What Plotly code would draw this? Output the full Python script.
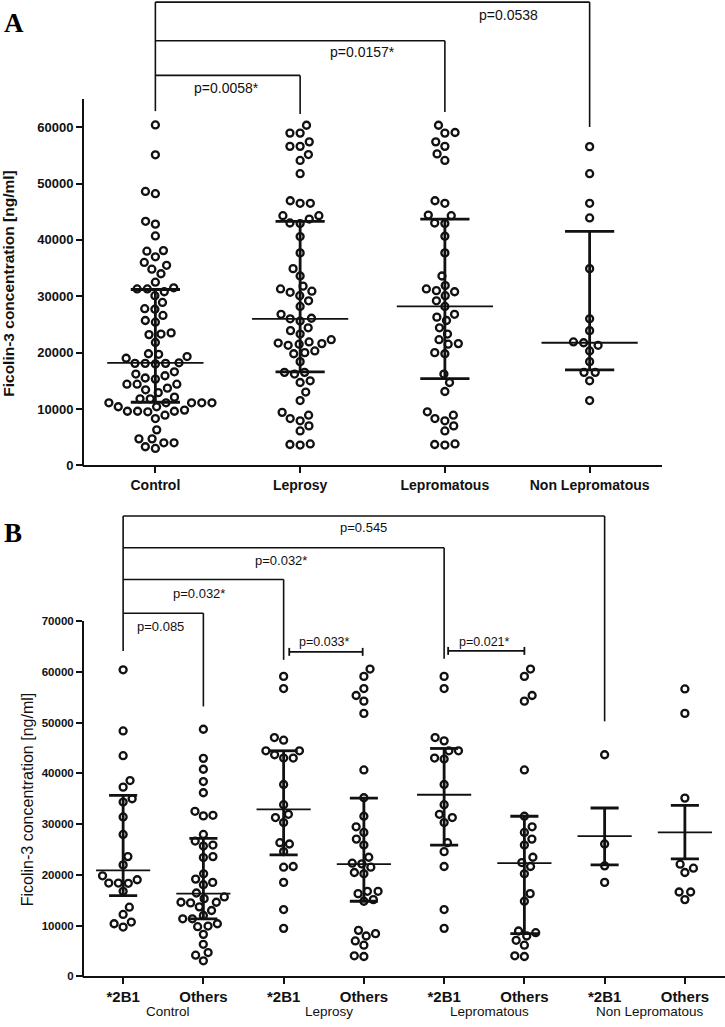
import math
import plotly.graph_objects as go

W, H = 725, 1027

# ---------------- Panel A data ----------------
cats_A = ["Control", "Leprosy", "Lepromatous", "Non Lepromatous"]
control_A = [60400, 55100, 48600, 48200, 43300, 42800, 40700, 38100, 38000, 37000, 36000, 35500,
             34800, 34000, 32500, 31500, 31300, 31300, 30800, 30100, 28900, 27800, 27700, 26600,
             25700, 25400, 23500, 23300, 23200, 21800, 19800, 19700, 19300, 19000, 18200, 18100,
             18100, 18100, 18000, 16600, 16200, 15900, 15500, 15300, 14400, 14400, 14400, 13700,
             13400, 12900, 12100, 11800, 11800, 11100, 11100, 11100, 11100, 11100, 10400, 10400,
             9800, 9600, 9600, 9600, 9500, 8900, 8300, 6300, 4700, 4700, 4000, 4000, 3300, 3000]
leprosy_A = [60350, 58950, 58950, 57400, 56600, 56600, 55150, 54100, 51750, 46950, 46500, 46500,
             44300, 44300, 43700, 43000, 42900, 40600, 37700, 34900, 33600, 31800, 31300, 30900,
             30700, 30100, 29200, 28200, 26800, 26100, 26000, 25600, 24400, 23900, 23300, 22300,
             21900, 21700, 21600, 21500, 21300, 20300, 20000, 19800, 18400, 16500, 16500, 16200,
             15000, 14700, 13000, 11500, 9400, 8900, 8300, 7900, 7000, 6100, 3800, 3700, 3600]
lepromatous_A = [60350, 59060, 58950, 57400, 56600, 55260, 54100, 46950, 46500, 44400, 44300,
                 43000, 42900, 40650, 37700, 33600, 31900, 31300, 31000, 30800, 30100, 29200,
                 28200, 26800, 26300, 25700, 24400, 23300, 22300, 21600, 21500, 20000, 19800,
                 16200, 14700, 13100, 9500, 8900, 8300, 7900, 7000, 6100, 3800, 3700, 3600]
nonlep_A = [56550, 51750, 46500, 43900, 34900, 26000, 23900, 21900, 21750, 21300, 20300, 18400,
            16500, 16500, 15000, 11500]
median_A = [18200, 26000, 28200, 21750]
q1_A = [11200, 16600, 15400, 16950]
q3_A = [31200, 43300, 43700, 41500]
ticks_A = [0, 10000, 20000, 30000, 40000, 50000, 60000]
pvals_A = ["p=0.0058*", "p=0.0157*", "p=0.0538"]

# ---------------- Panel B data ----------------
cats_B = ["*2B1", "Others", "*2B1", "Others", "*2B1", "Others", "*2B1", "Others"]
groups_B = ["Control", "Leprosy", "Lepromatous", "Non Lepromatous"]
ctrl_2b1 = [60400, 48350, 43470, 38580, 37280, 34990, 34340, 31410, 27960, 23590, 21960, 19810,
            19030, 18380, 18330, 18380, 16750, 13620, 12190, 10690, 10360, 9710]
ctrl_oth = [48680, 42950, 40800, 38380, 36170, 32520, 31610, 31730, 27960, 26650, 25670, 25870,
            23590, 23400, 20200, 18510, 18050, 19160, 16420, 15640, 14600, 14470, 14600, 15310,
            13690, 12970, 11990, 11340, 10360, 9775, 9910, 11340, 8270, 6310, 4690, 4170, 3060]
lep_2b1 = [59100, 56700, 47050, 46530, 44440, 43660, 43010, 43010, 44440, 37800, 33820, 31280,
           31930, 30300, 26330, 26070, 24570, 21640, 21500, 18510, 13160, 9450]
lep_oth = [60540, 59100, 56700, 55330, 54220, 51810, 40660, 35190, 31540, 29460, 28350, 27040,
           25870, 23460, 22290, 22160, 21500, 20200, 20460, 16750, 16290, 16750, 15120, 14790,
           9060, 8410, 7950, 6970, 6130, 3910, 4040]
lepro_2b1 = [59100, 56700, 46400, 47050, 44440, 44440, 43010, 42810, 37800, 33820, 31930, 31280,
             30300, 26330, 24570, 21640, 13160, 9450]
lepro_oth = [60540, 59100, 55330, 54220, 40660, 31540, 29460, 28350, 27040, 25870, 23460, 22420,
             21640, 20200, 16290, 14790, 8600, 8930, 7950, 7100, 6130, 3910, 4040]
nonlep_2b1 = [43660, 26070, 21770, 18510]
nonlep_oth = [56630, 51810, 35120, 21310, 20460, 22090, 16620, 15120, 16620]
median_B = [20860, 16290, 32910, 22090, 35780, 22290, 27630, 28350]
q1_B = [15900, 11340, 23920, 14790, 25870, 8410, 21960, 23130]
q3_B = [35650, 27170, 44440, 35120, 44900, 31540, 33170, 33690]
ticks_B = [0, 10000, 20000, 30000, 40000, 50000, 60000, 70000]
pvals_B = ["p=0.085", "p=0.032*", "p=0.032*", "p=0.545", "p=0.033*", "p=0.021*"]

# ---------------- geometry (pixels) ----------------
AX_L = 83
A_RIGHT, A_BOT, A_TOP = 662, 469, 0
B_RIGHT, B_BOT, B_TOP = 725, 984, 512
A_RANGE = [0, 82570]
B_RANGE = [0, 92276]
domxA = [AX_L / W, A_RIGHT / W]
domyA = [1 - A_BOT / H, 1 - A_TOP / H]
domxB = [AX_L / W, B_RIGHT / W]
domyB = [1 - B_BOT / H, 1 - B_TOP / H]
ppvA = (A_BOT - A_TOP) / (A_RANGE[1] - A_RANGE[0])
ppcA = (A_RIGHT - AX_L) / 4.0
ppvB = (B_BOT - B_TOP) / (B_RANGE[1] - B_RANGE[0])
ppcB = (B_RIGHT - AX_L) / 8.0

INK = "#111111"
FONT = "Arial, Liberation Sans, Helvetica, sans-serif"


def swarm(vals, ppv, ppc, d):
    """Continuous beeswarm: smallest horizontal offset (px) with no overlap."""
    order = sorted(range(len(vals)), key=lambda i: vals[i])
    placed = []
    off = [0.0] * len(vals)
    for n, i in enumerate(order):
        y = vals[i] * ppv
        intervals = []
        for px, py in placed:
            dy = abs(y - py)
            if dy < d:
                w = math.sqrt(d * d - dy * dy)
                intervals.append((px - w, px + w))
        cands = [0.0]
        for a, b in intervals:
            cands += [a, b]
        sign_pref = 1 if n % 2 == 0 else -1
        cands.sort(key=lambda c: (round(abs(c), 6), -sign_pref * c))
        chosen = 0.0
        for c in cands:
            if all(not (a + 1e-6 < c < b - 1e-6) for a, b in intervals):
                chosen = c
                break
        placed.append((chosen, y))
        off[i] = chosen / ppc
    return off


fig = go.Figure()
shapes = []
annos = []


def add_group(vals, pos, xa, ya, ppv, ppc, d):
    offs = swarm(vals, ppv, ppc, d)
    fig.add_trace(go.Scatter(
        x=[pos + o for o in offs], y=vals, mode="markers", xaxis=xa, yaxis=ya,
        marker=dict(symbol="circle-open", size=7, color=INK, line=dict(width=2.3, color=INK)),
        showlegend=False, hoverinfo="y"))


def add_stats(pos, med, lo, hi, xr, yr, mw, cw):
    shapes.append(dict(type="line", xref=xr, yref=yr, x0=pos - mw / 2, x1=pos + mw / 2,
                       y0=med, y1=med, line=dict(color=INK, width=1.8), layer="above"))
    shapes.append(dict(type="line", xref=xr, yref=yr, x0=pos, x1=pos, y0=lo, y1=hi,
                       line=dict(color=INK, width=2.8), layer="above"))
    for v in (lo, hi):
        shapes.append(dict(type="line", xref=xr, yref=yr, x0=pos - cw / 2, x1=pos + cw / 2,
                           y0=v, y1=v, line=dict(color=INK, width=2.8), layer="above"))


def seg(xr, yr, x0, y0, x1, y1, w=1.6):
    shapes.append(dict(type="line", xref=xr, yref=yr, x0=x0, x1=x1, y0=y0, y1=y1,
                       line=dict(color=INK, width=w)))


# ---------------- Panel A ----------------
groups_A = [control_A, leprosy_A, lepromatous_A, nonlep_A]
for i, g in enumerate(groups_A):
    add_group(g, i, "x", "y", ppvA, ppcA, 10.2)
    add_stats(i, median_A[i], q1_A[i], q3_A[i], "x", "y", 0.665, 0.34)

# brackets A: (to group, bar level, right leg end, label x, label y)
brA = [(1, 69190, 62320, 0.49, 66900), (2, 75350, 62680, 1.43, 73415), (3, 82200, 60035, 2.44, 79930)]
seg("x", "y", 0, 62850, 0, 82200)
for (j, lvl, leg, lx, ly), txt in zip(brA, pvals_A):
    seg("x", "y", 0, lvl, j, lvl)
    seg("x", "y", j, lvl, j, leg)
    annos.append(dict(xref="x", yref="y", x=lx, y=ly, text=txt, showarrow=False,
                      font=dict(family=FONT, size=14, color=INK), xanchor="center", yanchor="middle"))


def ypA(v):
    return domyA[0] + (v - A_RANGE[0]) / (A_RANGE[1] - A_RANGE[0]) * (domyA[1] - domyA[0])


def ypB(v):
    return domyB[0] + (v - B_RANGE[0]) / (B_RANGE[1] - B_RANGE[0]) * (domyB[1] - domyB[0])


shapes.append(dict(type="line", xref="paper", yref="paper", x0=domxA[0], x1=domxA[0],
                   y0=ypA(0) - 1 / H, y1=ypA(65000), line=dict(color=INK, width=2)))

# ---------------- Panel B ----------------
groups_Bv = [ctrl_2b1, ctrl_oth, lep_2b1, lep_oth, lepro_2b1, lepro_oth, nonlep_2b1, nonlep_oth]
for i, g in enumerate(groups_Bv):
    add_group(g, i, "x2", "y2", ppvB, ppcB, 9.6)
    add_stats(i, median_B[i], q1_B[i], q3_B[i], "x2", "y2", 0.675, 0.35)

brB = [(1, 71550, 53180, 0.47, 69010), (2, 78200, 62360, 0.95, 75460),
       (4, 84460, 62560, 1.97, 81910), (6, 90710, 50240, 3.0, 88370)]
seg("x2", "y2", 0, 64120, 0, 90710)
for (j, lvl, leg, lx, ly), txt in zip(brB, pvals_B[:4]):
    seg("x2", "y2", 0, lvl, j, lvl)
    seg("x2", "y2", j, lvl, j, leg)
    annos.append(dict(xref="x2", yref="y2", x=lx, y=ly, text=txt, showarrow=False,
                      font=dict(family=FONT, size=13, color=INK), xanchor="center", yanchor="middle"))

# short brackets (within-group comparisons)
tick_h = 4 / ppvB
short = [(2.07, 2.985, 63930, 2.51, 65300), (4.05, 5.0, 64120, 4.505, 65350)]
for (x0, x1, lvl, lx, ly), txt in zip(short, pvals_B[4:]):
    seg("x2", "y2", x0, lvl, x1, lvl, 1.8)
    seg("x2", "y2", x0, lvl - tick_h, x0, lvl + tick_h, 1.8)
    seg("x2", "y2", x1, lvl - tick_h, x1, lvl + tick_h, 1.8)
    annos.append(dict(xref="x2", yref="y2", x=lx, y=ly, text=txt, showarrow=False,
                      font=dict(family=FONT, size=12.5, color=INK), xanchor="center", yanchor="bottom",
                      yshift=-6))

shapes.append(dict(type="line", xref="paper", yref="paper", x0=domxB[0], x1=domxB[0],
                   y0=ypB(0) - 1 / H, y1=ypB(70000), line=dict(color=INK, width=2)))

# group labels under B
for k, gname in enumerate(groups_B):
    xc = domxB[0] + ((2 * k + 0.5 + 0.5) + 0.06) / 8.0 * (domxB[1] - domxB[0])
    annos.append(dict(xref="paper", yref="paper", x=xc, y=1 - 1019 / H, text=gname, showarrow=False,
                      font=dict(family=FONT, size=13.5, color=INK), xanchor="center", yanchor="middle"))

# panel letters
annos.append(dict(xref="paper", yref="paper", x=14 / W, y=1 - 23 / H, text="<b>A</b>", showarrow=False,
                  font=dict(family="Liberation Serif, Times New Roman, serif", size=27, color="black"),
                  xanchor="center", yanchor="middle"))
annos.append(dict(xref="paper", yref="paper", x=13 / W, y=1 - 537 / H, text="<b>B</b>", showarrow=False,
                  font=dict(family="Liberation Serif, Times New Roman, serif", size=27, color="black"),
                  xanchor="center", yanchor="middle"))

# axis titles
annos.append(dict(xref="paper", yref="paper", x=8.5 / W, y=1 - 286.5 / H,
                  text="<b>Ficolin-3 concentration [ng/ml]</b>", textangle=-90, showarrow=False,
                  font=dict(family=FONT, size=15.5, color=INK), xanchor="center", yanchor="middle"))
annos.append(dict(xref="paper", yref="paper", x=27.5 / W, y=1 - 806 / H,
                  text="Ficolin-3 concentration [ng/ml]", textangle=-90, showarrow=False,
                  font=dict(family=FONT, size=16, color=INK), xanchor="center", yanchor="middle"))

axis_common = dict(showgrid=False, zeroline=False, ticks="outside", tickcolor=INK, tickwidth=1.6,
                   ticklen=6, fixedrange=True)

fig.update_layout(
    width=W, height=H, autosize=False,
    margin=dict(l=0, r=0, t=0, b=0),
    paper_bgcolor="white", plot_bgcolor="white",
    showlegend=False,
    shapes=shapes, annotations=annos,
    xaxis=dict(domain=domxA, range=[-0.5, 3.5], anchor="y", tickvals=[0, 1, 2, 3], ticktext=cats_A,
               showline=True, linecolor=INK, linewidth=2,
               tickfont=dict(family=FONT, size=14, color=INK, weight="bold"), **axis_common),
    yaxis=dict(domain=domyA, range=A_RANGE, anchor="x", tickvals=ticks_A,
               ticktext=[str(t) for t in ticks_A], showline=False,
               tickfont=dict(family=FONT, size=13, color=INK, weight="bold"), **axis_common),
    xaxis2=dict(domain=domxB, range=[-0.5, 7.5], anchor="y2", tickvals=list(range(8)), ticktext=cats_B,
                showline=True, linecolor=INK, linewidth=2,
                tickfont=dict(family=FONT, size=15, color=INK, weight="bold"), **axis_common),
    yaxis2=dict(domain=domyB, range=B_RANGE, anchor="x2", tickvals=ticks_B,
                ticktext=[str(t) for t in ticks_B], showline=False,
                tickfont=dict(family=FONT, size=11.5, color=INK, weight="bold"), **axis_common),
)

fig.write_html("out.html", config={"displayModeBar": False},
               post_script="document.body.style.margin='0px';document.documentElement.style.overflow='hidden';")
